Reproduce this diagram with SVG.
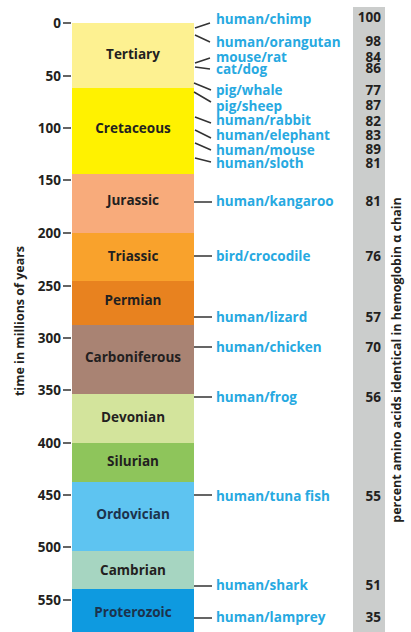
<svg xmlns="http://www.w3.org/2000/svg" width="411" height="632" viewBox="0 0 411 632">
<style>
.per{font-family:"Open Sans","Liberation Sans",sans-serif;font-weight:bold;font-size:13.5px;fill:#231f20;text-anchor:middle}
.dk{fill:#1c324c}
.tk{font-family:"Open Sans","Liberation Sans",sans-serif;font-weight:bold;font-size:13.5px;fill:#231f20;text-anchor:end}
.lb{font-family:"Open Sans","Liberation Sans",sans-serif;font-weight:bold;font-size:13.5px;fill:#27a9e1}
.num{font-family:"Open Sans","Liberation Sans",sans-serif;font-weight:bold;font-size:13.5px;fill:#231f20;text-anchor:end}
.ax{font-family:"Open Sans","Liberation Sans",sans-serif;font-weight:bold;font-size:12.5px;fill:#231f20;text-anchor:middle}
.ln{stroke:#333;stroke-width:1.5;fill:none}
</style>
<rect width="411" height="632" fill="#fff"/>
<rect x="353" y="7" width="32" height="625" fill="#cbcdcc"/>
<g id="periods">
<g id="tertiary"><rect x="72" y="23" width="122" height="65" fill="#fdf191"/><text class="per" x="133" y="59">Tertiary</text></g>
<g id="cretaceous"><rect x="72" y="88" width="122" height="86" fill="#fff200"/><text class="per" x="133" y="133">Cretaceous</text></g>
<g id="jurassic"><rect x="72" y="174" width="122" height="59" fill="#f8ab7b"/><text class="per" x="133" y="205">Jurassic</text></g>
<g id="triassic"><rect x="72" y="233" width="122" height="48" fill="#f9a22c"/><text class="per" x="133" y="261">Triassic</text></g>
<g id="permian"><rect x="72" y="281" width="122" height="44" fill="#e8821f"/><text class="per" x="133" y="305">Permian</text></g>
<g id="carboniferous"><rect x="72" y="325" width="122" height="69" fill="#a98373"/><text class="per" x="133" y="362">Carboniferous</text></g>
<g id="devonian"><rect x="72" y="394" width="122" height="49" fill="#d3e49c"/><text class="per" x="133" y="422">Devonian</text></g>
<g id="silurian"><rect x="72" y="443" width="122" height="39" fill="#8ec55b"/><text class="per" x="133" y="466">Silurian</text></g>
<g id="ordovician"><rect x="72" y="482" width="122" height="69" fill="#5ec4f1"/><text class="per dk" x="133" y="519">Ordovician</text></g>
<g id="cambrian"><rect x="72" y="551" width="122" height="38" fill="#a6d5c1"/><text class="per" x="133" y="575">Cambrian</text></g>
<g id="proterozoic"><rect x="72" y="589" width="122" height="43" fill="#0e9ae0"/><text class="per dk" x="133" y="617">Proterozoic</text></g>
</g>
<g id="axis">
<path class="ln" d="M63 23H71M63 76H71M63 128H71M63 180H71M63 233H71M63 286H71M63 338H71M63 390H71M63 443H71M63 495H71M63 547H71M63 600H71"/>
<text class="tk" x="61" y="28">0</text>
<text class="tk" x="61" y="81">50</text>
<text class="tk" x="61" y="133">100</text>
<text class="tk" x="61" y="185">150</text>
<text class="tk" x="61" y="238">200</text>
<text class="tk" x="61" y="291">250</text>
<text class="tk" x="61" y="343">300</text>
<text class="tk" x="61" y="395">350</text>
<text class="tk" x="61" y="448">400</text>
<text class="tk" x="61" y="500">450</text>
<text class="tk" x="61" y="552">500</text>
<text class="tk" x="61" y="605">550</text>
<text class="ax" transform="translate(24 321) rotate(-90)">time in millions of years</text>
<text class="ax" transform="translate(401 360) rotate(-90)">percent amino acids identical in hemoglobin α chain</text>
</g>
<g id="connectors">
<path class="ln" d="M195 28L210 23M195 35L210 42M195 63L210 58M195 67L210 69M194 83L211 90M194 92L211 102M195 117L211 123M195 130L211 138M195 143L211 150M195 158L211 162"/>
<path class="ln" d="M194 202H212M194 256H212M194 317H212M194 347H212M194 397H212M194 495H212M194 586H212M194 618H212"/>
</g>
<g id="labels">
<text class="lb" x="216" y="24">human/chimp</text>
<text class="lb" x="216" y="47">human/orangutan</text>
<text class="lb" x="216" y="62">mouse/rat</text>
<text class="lb" x="216" y="74">cat/dog</text>
<text class="lb" x="216" y="95">pig/whale</text>
<text class="lb" x="216" y="111">pig/sheep</text>
<text class="lb" x="216" y="125">human/rabbit</text>
<text class="lb" x="216" y="140">human/elephant</text>
<text class="lb" x="216" y="155">human/mouse</text>
<text class="lb" x="216" y="168">human/sloth</text>
<text class="lb" x="216" y="206">human/kangaroo</text>
<text class="lb" x="216" y="261">bird/crocodile</text>
<text class="lb" x="216" y="322">human/lizard</text>
<text class="lb" x="216" y="352">human/chicken</text>
<text class="lb" x="216" y="402">human/frog</text>
<text class="lb" x="216" y="501">human/tuna fish</text>
<text class="lb" x="216" y="590">human/shark</text>
<text class="lb" x="216" y="622">human/lamprey</text>
</g>
<g id="values">
<text class="num" x="381" y="22">100</text>
<text class="num" x="381" y="46">98</text>
<text class="num" x="381" y="62">84</text>
<text class="num" x="381" y="73">86</text>
<text class="num" x="381" y="95">77</text>
<text class="num" x="381" y="110">87</text>
<text class="num" x="381" y="126">82</text>
<text class="num" x="381" y="140">83</text>
<text class="num" x="381" y="154">89</text>
<text class="num" x="381" y="168">81</text>
<text class="num" x="381" y="206">81</text>
<text class="num" x="381" y="261">76</text>
<text class="num" x="381" y="322">57</text>
<text class="num" x="381" y="352">70</text>
<text class="num" x="381" y="402">56</text>
<text class="num" x="381" y="501">55</text>
<text class="num" x="381" y="590">51</text>
<text class="num" x="381" y="622">35</text>
</g>
</svg>
